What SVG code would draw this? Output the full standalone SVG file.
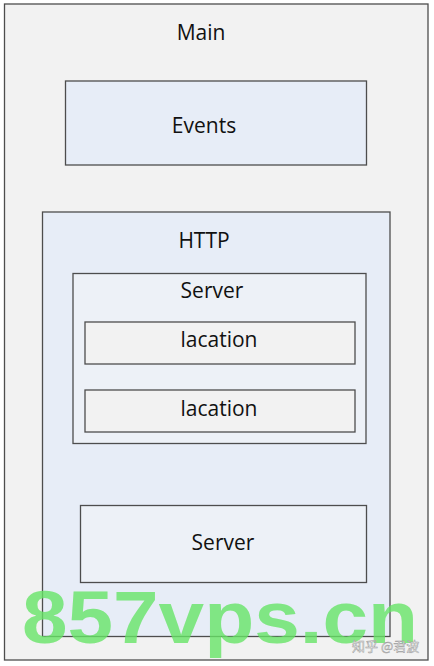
<svg xmlns="http://www.w3.org/2000/svg" width="434" height="666" viewBox="0 0 434 666">
<style>
.box{stroke:#4d4d4d;stroke-width:1.3}
.t{font-family:"Open Sans","Noto Sans","DejaVu Sans",sans-serif;font-size:21px;fill:#111;text-anchor:middle}
</style>
<rect width="434" height="666" fill="#ffffff"/>
<g id="main">
<rect class="box" x="4.5" y="4" width="423.5" height="656" fill="#f2f2f2"/>
<text class="t" x="201" y="40">Main</text>
</g>
<g id="events">
<rect class="box" x="65.5" y="81" width="301" height="84" fill="#e7edf7"/>
<text class="t" x="204" y="133">Events</text>
</g>
<g id="http">
<rect class="box" x="42.5" y="212" width="347.5" height="424.5" fill="#e7edf7"/>
<text class="t" x="204" y="248">HTTP</text>
</g>
<g id="server1">
<rect class="box" x="73" y="273.5" width="293" height="170" fill="#edf1f7"/>
<text class="t" x="212" y="298">Server</text>
</g>
<g id="lacation1">
<rect class="box" x="85" y="322" width="270" height="42" fill="#f2f2f2"/>
<text class="t" x="219" y="347">lacation</text>
</g>
<g id="lacation2">
<rect class="box" x="85" y="390" width="270" height="42" fill="#f2f2f2"/>
<text class="t" x="219" y="416">lacation</text>
</g>
<g id="server2">
<rect class="box" x="80.5" y="505.5" width="286" height="77" fill="#edf1f7"/>
<text class="t" x="223" y="550">Server</text>
</g>
<g id="connectors"></g>
<g id="watermark">
<text x="22" y="643" font-family="'Liberation Sans',Arial,sans-serif" font-weight="bold" font-size="74" fill="#66e466" fill-opacity="0.8" textLength="396" lengthAdjust="spacingAndGlyphs">857vps.cn</text>
<text x="352" y="651" font-family="'Noto Sans CJK SC','Noto Sans',sans-serif" font-size="13" fill="#ffffff" stroke="#9a9a9a" stroke-width="0.5">知乎 @君波</text>
</g>
</svg>
